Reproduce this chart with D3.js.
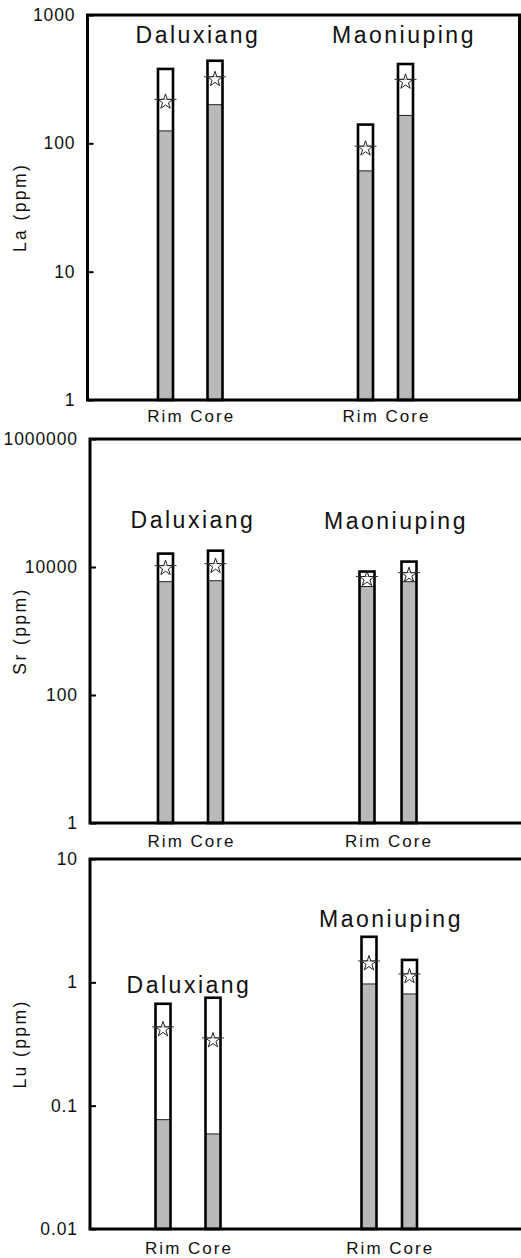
<!DOCTYPE html>
<html>
<head>
<meta charset="utf-8">
<script src="https://cdn.jsdelivr.net/npm/d3@7"></script>
<style>
  html, body { margin: 0; padding: 0; background: #fff; }
  svg { display: block; font-family: "Liberation Sans", Arial, Helvetica, sans-serif; }
</style>
</head>
<body>
<svg id="chart" width="521" height="1258"></svg>
<script>
// Deposits and zones sampled
const sites = ["Daluxiang", "Maoniuping"];
const zones = ["Rim", "Core"];
const bars = ["Daluxiang Rim", "Daluxiang Core", "Maoniuping Rim", "Maoniuping Core"];

// La (ppm): minimum, maximum, mean per bar (same order as `bars`)
const laMin  = [125, 200, 61, 165];
const laMax  = [380, 440, 140, 415];
const laMean = [220, 330, 95, 315];

// Sr (ppm)
const srMin  = [5900, 6100, 4950, 5900];
const srMax  = [16200, 18000, 8500, 12150];
const srMean = [10500, 11300, 7100, 8150];

// Lu (ppm)
const luMin  = [0.077, 0.059, 0.97, 0.805];
const luMax  = [0.67, 0.75, 2.34, 1.52];
const luMean = [0.435, 0.354, 1.49, 1.17];

// Axis tick labels
const laTicks = [1, 10, 100, 1000];
const srTicks = [1, 100, 10000, 1000000];
const luTicks = [0.01, 0.1, 1, 10];

const svg = d3.select("#chart");

const panels = [
  { label: "La (ppm)", min: laMin, max: laMax, mean: laMean, ticks: laTicks,
    top: 15, bottom: 400, left: 87.5, right: 519.5,
    centers: [165.5, 215, 365.5, 405.5],
    titleX: [198, 404], titleY: [43, 43], zoneDy: 22 },
  { label: "Sr (ppm)", min: srMin, max: srMax, mean: srMean, ticks: srTicks,
    top: 439, bottom: 823, left: 90, right: 524,
    centers: [165.5, 215.5, 367, 409],
    titleX: [193, 396], titleY: [528, 529], zoneDy: 24 },
  { label: "Lu (ppm)", min: luMin, max: luMax, mean: luMean, ticks: luTicks,
    top: 859, bottom: 1229, left: 90, right: 524,
    centers: [163, 213, 369, 409.5],
    titleX: [189, 391], titleY: [993, 927], zoneDy: 25 }
];

const barW = 15;        // inner width of a bar
const starR = 8;        // outer radius of the mean marker
const starPath = d3.symbol(d3.symbolStar, starR * starR / 0.8908130915292852)();
const armOffset = starR * Math.cos(2 * Math.PI / 5);

panels.forEach(p => {
  const g = svg.append("g");
  const ticks = p.ticks;
  const y = d3.scaleLog()
    .domain([ticks[0], ticks[ticks.length - 1]])
    .range([p.bottom, p.top]);
  const x = d3.scaleOrdinal().domain(bars).range(p.centers);

  const rows = bars.map((b, i) => ({ key: b, min: p.min[i], max: p.max[i], mean: p.mean[i] }));

  // white box spanning up to the maximum
  g.selectAll("rect.box").data(rows).join("rect")
    .attr("class", "box")
    .attr("x", d => x(d.key) - barW / 2)
    .attr("width", barW)
    .attr("y", d => y(d.max))
    .attr("height", d => p.bottom - y(d.max))
    .attr("fill", "#fff");

  // grey fill up to the minimum
  g.selectAll("rect.minfill").data(rows).join("rect")
    .attr("class", "minfill")
    .attr("x", d => x(d.key) - barW / 2)
    .attr("width", barW)
    .attr("y", d => y(d.min))
    .attr("height", d => p.bottom - y(d.min))
    .attr("fill", "#b9b9b9");

  g.selectAll("line.minline").data(rows).join("line")
    .attr("class", "minline")
    .attr("x1", d => x(d.key) - barW / 2)
    .attr("x2", d => x(d.key) + barW / 2)
    .attr("y1", d => y(d.min))
    .attr("y2", d => y(d.min))
    .attr("stroke", "#222")
    .attr("stroke-width", 1);

  // bar outline
  g.selectAll("rect.outline").data(rows).join("rect")
    .attr("class", "outline")
    .attr("x", d => x(d.key) - barW / 2)
    .attr("width", barW)
    .attr("y", d => y(d.max))
    .attr("height", d => p.bottom - y(d.max))
    .attr("fill", "none")
    .attr("stroke", "#000")
    .attr("stroke-width", 2.6);

  // mean: horizontal line with a star marker
  g.selectAll("line.mean").data(rows).join("line")
    .attr("class", "mean")
    .attr("x1", d => x(d.key) - barW / 2 - 3.5)
    .attr("x2", d => x(d.key) + barW / 2 + 3.5)
    .attr("y1", d => y(d.mean))
    .attr("y2", d => y(d.mean))
    .attr("stroke", "#333")
    .attr("stroke-width", 1);

  g.selectAll("path.star").data(rows).join("path")
    .attr("class", "star")
    .attr("d", starPath)
    .attr("transform", d => `translate(${x(d.key)},${y(d.mean) + armOffset})`)
    .attr("fill", "#fff")
    .attr("fill-opacity", 0.55)
    .attr("stroke", "#222")
    .attr("stroke-width", 1);

  // frame
  g.append("rect")
    .attr("x", p.left).attr("y", p.top)
    .attr("width", p.right - p.left).attr("height", p.bottom - p.top)
    .attr("fill", "none").attr("stroke", "#000").attr("stroke-width", 3);

  // left axis with inward ticks
  const axis = d3.axisLeft(y).tickValues(ticks).tickSize(-6).tickPadding(12)
    .tickFormat(d => String(d));
  const ax = g.append("g").attr("transform", `translate(${p.left},0)`).call(axis);
  ax.select(".domain").remove();
  ax.selectAll(".tick line").attr("stroke", "#000").attr("stroke-width", 2);
  ax.selectAll(".tick text")
    .attr("font-size", 17.5)
    .attr("letter-spacing", "0.9px")
    .attr("fill", "#111")
    .attr("font-family", "\"Liberation Sans\", Arial, sans-serif");

  // y-axis title
  g.append("text")
    .attr("transform", `translate(26,${(p.top + p.bottom) / 2}) rotate(-90)`)
    .attr("text-anchor", "middle")
    .attr("font-size", 17.5)
    .attr("letter-spacing", "2.4px")
    .attr("fill", "#111")
    .text(p.label);

  // deposit names
  sites.forEach((s, i) => {
    g.append("text")
      .attr("x", p.titleX[i])
      .attr("y", p.titleY[i])
      .attr("text-anchor", "middle")
      .attr("font-size", 23)
      .attr("letter-spacing", "2.5px")
      .attr("fill", "#111")
      .text(s);
  });

  // zone labels under each pair of bars
  sites.forEach(s => {
    const cx = (x(s + " " + zones[0]) + x(s + " " + zones[1])) / 2;
    g.append("text")
      .attr("x", cx + 1)
      .attr("y", p.bottom + p.zoneDy)
      .attr("text-anchor", "middle")
      .attr("font-size", 17)
      .attr("letter-spacing", "2px")
      .attr("fill", "#111")
      .text(zones.join(" "));
  });
});
</script>
</body>
</html>
